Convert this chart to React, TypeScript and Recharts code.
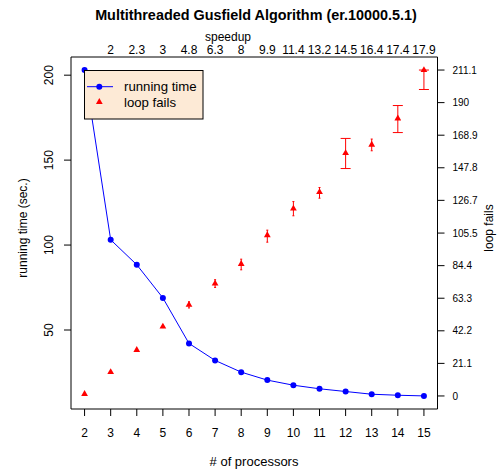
import React from 'react';
import {
    ComposedChart,
    Line,
    Scatter,
    ErrorBar,
    XAxis,
    YAxis,
    Legend,
} from 'recharts';

const processors = [2, 3, 4, 5, 6, 7, 8, 9, 10, 11, 12, 13, 14, 15];
const runningTime = [203, 103.1, 88.4, 68.9, 42.1, 32.1, 25.2, 20.5, 17.5, 15.4, 13.8, 12.2, 11.6, 11.2];
const loopFails = [1.3, 15.5, 29.8, 44.9, 59, 72.8, 85.5, 104.1, 121.4, 132.0, 157.3, 162.7, 179.7, 211.1];
const failsErrLow = [0.3, 0.4, 0.5, 0.6, 2, 2.5, 3.8, 4.5, 4.7, 3.9, 10, 3.9, 9.1, 12.6];
const failsErrHigh = [0.3, 0.4, 0.5, 0.6, 2, 2.5, 3.1, 3.3, 4.5, 3.0, 9.5, 3.7, 8.4, 0];

const speedupTicks = [3, 4, 5, 6, 7, 8, 9, 10, 11, 12, 13, 14, 15];
const speedupLabels = ['2', '2.3', '3', '4.8', '6.3', '8', '9.9', '11.4', '13.2', '14.5', '16.4', '17.4', '17.9'];
const timeTicks = [50, 100, 150, 200];
const failTicks = [0, 21.1, 42.2, 63.3, 84.4, 105.5, 126.7, 147.8, 168.9, 190, 211.1];

const data = processors.map((p, i) => {
    const err = [failsErrLow[i], failsErrHigh[i]];
    const big = failsErrLow[i] >= 8;
    return {
        p,
        time: runningTime[i],
        fails: loopFails[i],
        errBig: big ? err : null,
        errSmall: big ? null : err,
    };
});

const FONT = '"Liberation Sans", Arial, Helvetica, sans-serif';
const BLUE = '#0000ff';
const RED = '#ff0000';

const triangle = (cx: number, cy: number, r: number) =>
    `${cx},${cy - r} ${cx - 0.866 * r},${cy + r / 2} ${cx + 0.866 * r},${cy + r / 2}`;

const Triangle = (props: any) => {
    const { cx, cy } = props;
    if (cx == null || cy == null) return null;
    return <polygon points={triangle(cx, cy, 3.9)} fill={RED} />;
};

const LeftTick = ({ x, y, payload }: any) => (
    <text x={x} y={y} transform={`rotate(-90 ${x} ${y})`} textAnchor="middle" fontSize={12} fill="#000">
        {payload.value}
    </text>
);

const LegendBox = () => (
    <svg width={120} height={50} style={{ display: 'block' }}>
        <rect x={0.5} y={0.5} width={118.5} height={48.5} fill="#fdead6" stroke="#000" />
        <line x1={3} y1={16.7} x2={29} y2={16.7} stroke={BLUE} />
        <circle cx={15.3} cy={16.7} r={3} fill={BLUE} />
        <polygon points={triangle(15.3, 32, 3.9)} fill={RED} />
        <text x={40} y={21.3} fontSize={13.2} fill="#000">running time</text>
        <text x={40} y={36.6} fontSize={13.2} fill="#000">loop fails</text>
    </svg>
);

export default function App() {
    return (
        <div style={{ position: 'absolute', left: 0, top: 0, width: 500, height: 472, fontFamily: FONT, background: '#fff' }}>
            <ComposedChart width={500} height={472} data={data} margin={{ top: 0, right: 0, bottom: 0, left: 0 }}>
                <XAxis
                    xAxisId="bottom"
                    dataKey="p"
                    type="number"
                    domain={[1.48, 15.52]}
                    ticks={processors}
                    interval={0}
                    allowDataOverflow
                    height={63}
                    stroke="#000"
                    tickSize={7}
                    tickMargin={12}
                    tick={{ fill: '#000', fontSize: 12 }}
                />
                <XAxis
                    xAxisId="top"
                    orientation="top"
                    dataKey="p"
                    type="number"
                    domain={[1.48, 15.52]}
                    ticks={speedupTicks}
                    interval={0}
                    allowDataOverflow
                    height={57}
                    stroke="#000"
                    tickLine={false}
                    tickSize={0}
                    tickMargin={3}
                    tick={{ fill: '#000', fontSize: 12 }}
                    tickFormatter={(v: number) => speedupLabels[speedupTicks.indexOf(v)] ?? ''}
                />
                <YAxis
                    yAxisId="left"
                    type="number"
                    domain={[3.5, 210.7]}
                    ticks={timeTicks}
                    interval={0}
                    allowDataOverflow
                    width={71}
                    stroke="#000"
                    tickSize={7}
                    tickMargin={11}
                    tick={<LeftTick />}
                />
                <YAxis
                    yAxisId="right"
                    orientation="right"
                    type="number"
                    domain={[-8.44, 219.54]}
                    ticks={failTicks}
                    interval={0}
                    allowDataOverflow
                    width={62.5}
                    stroke="#000"
                    tickSize={7}
                    tickMargin={8}
                    tick={{ fill: '#000', fontSize: 10 }}
                    tickFormatter={(v: number) => String(v)}
                />
                <Legend
                    layout="horizontal"
                    verticalAlign="middle"
                    align="center"
                    wrapperStyle={{ left: 84, top: 70, width: 120, height: 50 }}
                    content={() => <LegendBox />}
                />
                <Line
                    xAxisId="bottom"
                    yAxisId="left"
                    dataKey="time"
                    stroke={BLUE}
                    strokeWidth={1}
                    dot={{ r: 3, fill: BLUE, stroke: 'none' }}
                    activeDot={false}
                    isAnimationActive={false}
                />
                <Scatter
                    xAxisId="bottom"
                    yAxisId="right"
                    dataKey="fails"
                    shape={<Triangle />}
                    isAnimationActive={false}
                >
                    <ErrorBar dataKey="errBig" direction="y" width={5} stroke={RED} strokeWidth={1} />
                    <ErrorBar dataKey="errSmall" direction="y" width={1} stroke={RED} strokeWidth={1} />
                </Scatter>
            </ComposedChart>
            <svg
                width={500}
                height={472}
                style={{ position: 'absolute', left: 0, top: 0, pointerEvents: 'none' }}
            >
                <text x={256} y={19.5} textAnchor="middle" fontSize={14.4} fontWeight="bold" fill="#000">
                    Multithreaded Gusfield Algorithm (er.10000.5.1)
                </text>
                <text x={228} y={40.5} textAnchor="middle" fontSize={12} fill="#000">speedup</text>
                <text x={254} y={466} textAnchor="middle" fontSize={13} fill="#000"># of processors</text>
                <text x={27} y={228} transform="rotate(-90 27 228)" textAnchor="middle" fontSize={12} fill="#000">
                    running time (sec.)
                </text>
                <text x={493} y={228} transform="rotate(-90 493 228)" textAnchor="middle" fontSize={12} fill="#000">
                    loop fails
                </text>
            </svg>
        </div>
    );
}
